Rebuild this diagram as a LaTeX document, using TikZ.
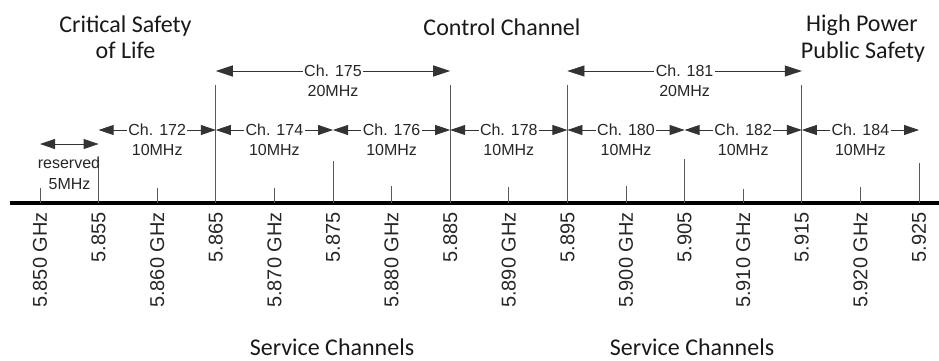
\documentclass[tikz,border=0pt]{standalone}
\usepackage{fontspec}
\setmainfont{Liberation Sans}
\newfontfamily\titlefont{Carlito}
\usetikzlibrary{arrows.meta}
\begin{document}
\begin{tikzpicture}[x=1pt,y=-1pt,
  axisln/.style={line width=4pt,black},
  tickln/.style={line width=0.9pt,black!65},
  arrten/.style={line width=0.8pt,black!80,{Triangle[length=15pt,width=10pt]}-{Triangle[length=15pt,width=10pt]}},
  arrtwenty/.style={line width=0.8pt,black!80,{Triangle[length=17pt,width=11pt]}-{Triangle[length=17pt,width=11pt]}},
  chlbl/.style={font=\fontsize{16}{19}\selectfont,fill=white,inner xsep=1.5pt,inner ysep=0pt,text=black!85},
  mhz/.style={font=\fontsize{16}{19}\selectfont,inner sep=0pt,anchor=base,text=black!85},
  freq/.style={font=\fontsize{20}{24}\selectfont,rotate=90,anchor=east,inner sep=0pt,text=black!85},
  ttl/.style={font=\titlefont\fontsize{24}{26}\selectfont,anchor=base,inner sep=0pt,text=black!90}]
\useasboundingbox (0,0) rectangle (939,360);
% axis
\coordinate (axL) at (10,203);
\coordinate (axR) at (939,203);
\draw[axisln] (axL) -- (axR);
% ticks and frequency labels
\foreach \k/\top/\lab in {0/188/5.850 GHz,1/160/5.855,2/188/5.860 GHz,3/85/5.865,4/188/5.870 GHz,5/161/5.875,6/186/5.880 GHz,7/85/5.885,8/187/5.890 GHz,9/85/5.895,10/186/5.900 GHz,11/159/5.905,12/189/5.910 GHz,13/85/5.915,14/187/5.920 GHz,15/163/5.925}{
  \pgfmathsetmacro{\xx}{40+58.6*\k}
  \coordinate (b\k) at (\xx,203);
  \coordinate (t\k) at (\xx,\top);
  \coordinate (p\k) at (\xx,130);
  \coordinate (q\k) at (\xx,71);
  \draw[tickln] (b\k) -- (t\k);
  \node[freq] (f\k) at (\xx,212) {\lab};
}
% reserved
\coordinate (r0) at (40,144);
\coordinate (r1) at (98.6,144);
\draw[arrten] (r0) -- (r1);
\node[mhz] (res1) at (69,168) {reserved};
\node[mhz] (res2) at (69.5,189) {5MHz};
% 10 MHz channels
\foreach \a/\b/\n in {1/3/172,3/5/174,5/7/176,7/9/178,9/11/180,11/13/182,13/15/184}{
  \draw[arrten] (p\a) -- node[chlbl] (c\n) {Ch. \n} (p\b);
  \node[mhz] (m\n) at (c\n.center |- 0,155) {10MHz};
}
% 20 MHz channels
\foreach \a/\b/\n in {3/7/175,9/13/181}{
  \draw[arrtwenty] (q\a) -- node[chlbl] (c\n) {Ch. \n} (q\b);
  \node[mhz] (m\n) at (c\n.center |- 0,96) {20MHz};
}
% titles
\node[ttl] (cs1) at (125.5,32) {Critical Safety};
\node[ttl] (cs2) at (125.5,58) {of Life};
\node[ttl] (cc) at (502,35) {Control Channel};
\node[ttl] (hp1) at (862,31) {High Power};
\node[ttl] (hp2) at (863,58) {Public Safety};
\node[ttl] (sc1) at (332,355.5) {Service Channels};
\node[ttl] (sc2) at (692,355.5) {Service Channels};
\end{tikzpicture}
\end{document}
